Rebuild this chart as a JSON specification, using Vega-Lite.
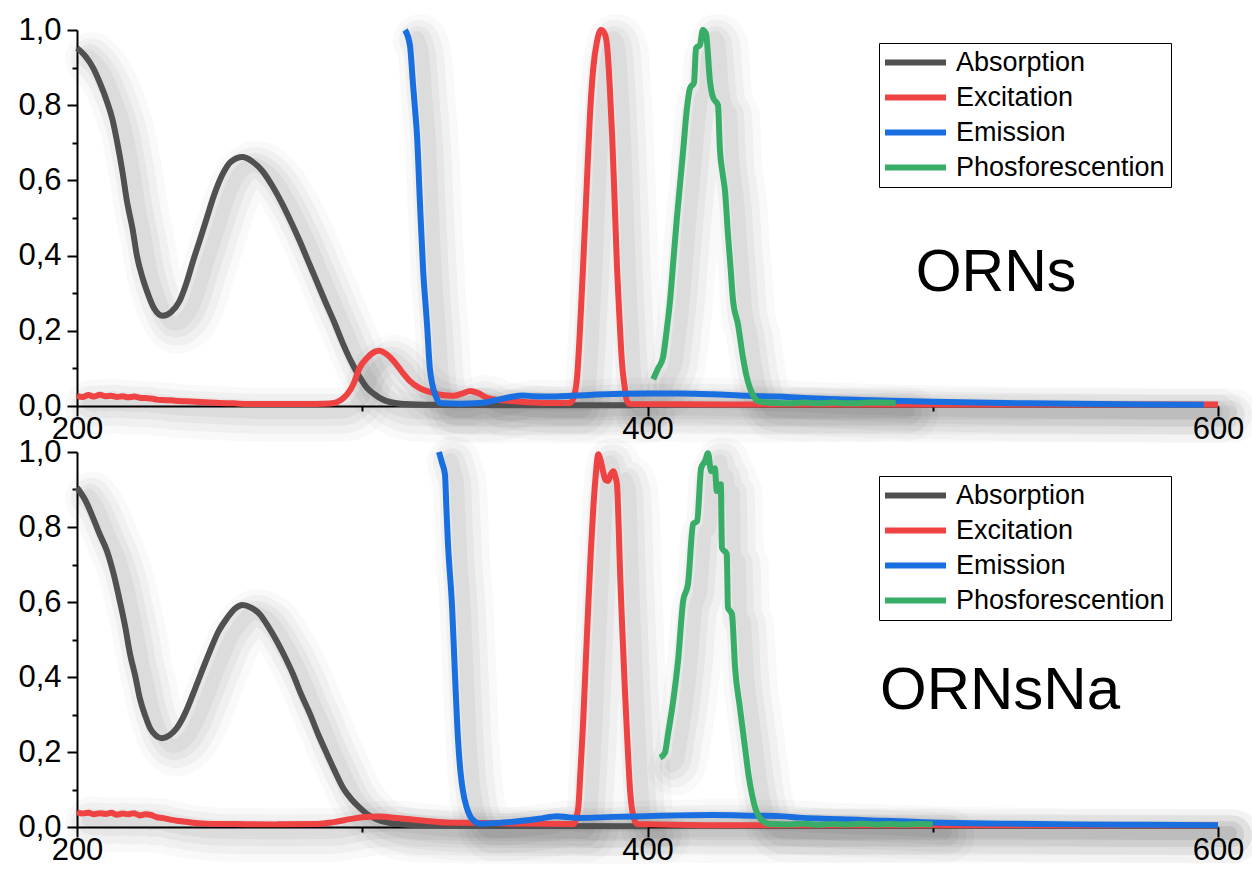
{
  "$schema": "https://vega.github.io/schema/vega-lite/v6.json",
  "background": "white",
  "padding": {"left": 17, "top": 14, "right": 0, "bottom": 0},
  "spacing": 46,
  "bounds": "flush",
  "datasets": {
    "orns": [
      {"s":"Absorption","x":200,"y":0.952},{"s":"Absorption","x":203,"y":0.93},{"s":"Absorption","x":205.6,"y":0.9},{"s":"Absorption","x":208,"y":0.86},{"s":"Absorption","x":210.5,"y":0.81},{"s":"Absorption","x":212.5,"y":0.76},{"s":"Absorption","x":214,"y":0.705},{"s":"Absorption","x":216,"y":0.62},{"s":"Absorption","x":217.5,"y":0.545},{"s":"Absorption","x":219.5,"y":0.47},{"s":"Absorption","x":221,"y":0.4},{"s":"Absorption","x":223,"y":0.34},{"s":"Absorption","x":224.5,"y":0.306},{"s":"Absorption","x":227,"y":0.26},{"s":"Absorption","x":230,"y":0.24},{"s":"Absorption","x":233,"y":0.25},{"s":"Absorption","x":236,"y":0.28},{"s":"Absorption","x":238.5,"y":0.33},{"s":"Absorption","x":240.7,"y":0.386},{"s":"Absorption","x":243,"y":0.44},{"s":"Absorption","x":245.5,"y":0.5},{"s":"Absorption","x":248,"y":0.56},{"s":"Absorption","x":251,"y":0.616},{"s":"Absorption","x":254,"y":0.65},{"s":"Absorption","x":258,"y":0.662},{"s":"Absorption","x":261.5,"y":0.65},{"s":"Absorption","x":265,"y":0.625},{"s":"Absorption","x":268.5,"y":0.585},{"s":"Absorption","x":272,"y":0.537},{"s":"Absorption","x":275,"y":0.49},{"s":"Absorption","x":278,"y":0.44},{"s":"Absorption","x":281,"y":0.386},{"s":"Absorption","x":284,"y":0.332},{"s":"Absorption","x":287,"y":0.278},{"s":"Absorption","x":290,"y":0.226},{"s":"Absorption","x":293,"y":0.17},{"s":"Absorption","x":296,"y":0.12},{"s":"Absorption","x":299,"y":0.078},{"s":"Absorption","x":301.7,"y":0.048},{"s":"Absorption","x":304.5,"y":0.03},{"s":"Absorption","x":307,"y":0.018},{"s":"Absorption","x":310,"y":0.01},{"s":"Absorption","x":315,"y":0.005},{"s":"Absorption","x":325,"y":0.003},{"s":"Absorption","x":350,"y":0.002},{"s":"Absorption","x":395,"y":0.002},
      {"s":"Excitation","x":200,"y":0.027},{"s":"Excitation","x":202,"y":0.024},{"s":"Excitation","x":204,"y":0.029},{"s":"Excitation","x":206,"y":0.025},{"s":"Excitation","x":208,"y":0.03},{"s":"Excitation","x":210,"y":0.026},{"s":"Excitation","x":212,"y":0.027},{"s":"Excitation","x":214,"y":0.024},{"s":"Excitation","x":216,"y":0.026},{"s":"Excitation","x":218,"y":0.023},{"s":"Excitation","x":220,"y":0.025},{"s":"Excitation","x":222,"y":0.022},{"s":"Excitation","x":224,"y":0.021},{"s":"Excitation","x":226,"y":0.02},{"s":"Excitation","x":228,"y":0.017},{"s":"Excitation","x":230,"y":0.016},{"s":"Excitation","x":233,"y":0.015},{"s":"Excitation","x":236,"y":0.013},{"s":"Excitation","x":240,"y":0.012},{"s":"Excitation","x":245,"y":0.01},{"s":"Excitation","x":250,"y":0.008},{"s":"Excitation","x":255,"y":0.007},{"s":"Excitation","x":260,"y":0.005},{"s":"Excitation","x":270,"y":0.005},{"s":"Excitation","x":280,"y":0.005},{"s":"Excitation","x":287,"y":0.006},{"s":"Excitation","x":290,"y":0.008},{"s":"Excitation","x":292.5,"y":0.016},{"s":"Excitation","x":294.6,"y":0.03},{"s":"Excitation","x":297,"y":0.06},{"s":"Excitation","x":299,"y":0.1},{"s":"Excitation","x":302,"y":0.13},{"s":"Excitation","x":304,"y":0.143},{"s":"Excitation","x":306,"y":0.147},{"s":"Excitation","x":308.5,"y":0.138},{"s":"Excitation","x":311,"y":0.12},{"s":"Excitation","x":314,"y":0.09},{"s":"Excitation","x":316.7,"y":0.066},{"s":"Excitation","x":320,"y":0.048},{"s":"Excitation","x":324.8,"y":0.035},{"s":"Excitation","x":328,"y":0.029},{"s":"Excitation","x":331.8,"y":0.027},{"s":"Excitation","x":335,"y":0.033},{"s":"Excitation","x":337.8,"y":0.04},{"s":"Excitation","x":340.5,"y":0.035},{"s":"Excitation","x":343.7,"y":0.022},{"s":"Excitation","x":348,"y":0.016},{"s":"Excitation","x":352.9,"y":0.013},{"s":"Excitation","x":358,"y":0.01},{"s":"Excitation","x":364.7,"y":0.008},{"s":"Excitation","x":372.8,"y":0.008},{"s":"Excitation","x":374,"y":0.02},{"s":"Excitation","x":375.3,"y":0.075},{"s":"Excitation","x":376.3,"y":0.2},{"s":"Excitation","x":377.4,"y":0.37},{"s":"Excitation","x":378.6,"y":0.57},{"s":"Excitation","x":379.8,"y":0.77},{"s":"Excitation","x":381,"y":0.9},{"s":"Excitation","x":382.3,"y":0.97},{"s":"Excitation","x":383.7,"y":1.0},{"s":"Excitation","x":385,"y":0.99},{"s":"Excitation","x":385.8,"y":0.96},{"s":"Excitation","x":386.7,"y":0.86},{"s":"Excitation","x":387.6,"y":0.72},{"s":"Excitation","x":388.5,"y":0.54},{"s":"Excitation","x":389.3,"y":0.37},{"s":"Excitation","x":390.2,"y":0.23},{"s":"Excitation","x":391,"y":0.12},{"s":"Excitation","x":392,"y":0.05},{"s":"Excitation","x":392.8,"y":0.013},{"s":"Excitation","x":394,"y":0.005},{"s":"Excitation","x":450,"y":0.004},{"s":"Excitation","x":500,"y":0.004},{"s":"Excitation","x":600,"y":0.004},
      {"s":"Emission","x":315,"y":1.0},{"s":"Emission","x":316.7,"y":0.96},{"s":"Emission","x":317.8,"y":0.855},{"s":"Emission","x":318.5,"y":0.79},{"s":"Emission","x":319.2,"y":0.72},{"s":"Emission","x":320.2,"y":0.545},{"s":"Emission","x":321.3,"y":0.367},{"s":"Emission","x":322.7,"y":0.218},{"s":"Emission","x":323.7,"y":0.1},{"s":"Emission","x":324.5,"y":0.06},{"s":"Emission","x":325.5,"y":0.032},{"s":"Emission","x":327.3,"y":0.008},{"s":"Emission","x":334,"y":0.006},{"s":"Emission","x":341.3,"y":0.008},{"s":"Emission","x":345,"y":0.012},{"s":"Emission","x":348.3,"y":0.018},{"s":"Emission","x":352,"y":0.024},{"s":"Emission","x":356.3,"y":0.028},{"s":"Emission","x":360,"y":0.026},{"s":"Emission","x":364.7,"y":0.025},{"s":"Emission","x":375,"y":0.028},{"s":"Emission","x":388,"y":0.032},{"s":"Emission","x":400,"y":0.033},{"s":"Emission","x":411.4,"y":0.033},{"s":"Emission","x":423,"y":0.031},{"s":"Emission","x":434.9,"y":0.027},{"s":"Emission","x":446,"y":0.025},{"s":"Emission","x":453.5,"y":0.022},{"s":"Emission","x":475,"y":0.016},{"s":"Emission","x":500,"y":0.011},{"s":"Emission","x":525,"y":0.008},{"s":"Emission","x":550,"y":0.006},{"s":"Emission","x":575,"y":0.004},{"s":"Emission","x":595,"y":0.003},
      {"s":"Phosforescention","x":402,"y":0.071},{"s":"Phosforescention","x":403.7,"y":0.1},{"s":"Phosforescention","x":405.4,"y":0.128},{"s":"Phosforescention","x":406.7,"y":0.2},{"s":"Phosforescention","x":407.9,"y":0.28},{"s":"Phosforescention","x":409.1,"y":0.39},{"s":"Phosforescention","x":410.3,"y":0.5},{"s":"Phosforescention","x":411.4,"y":0.59},{"s":"Phosforescention","x":412.5,"y":0.68},{"s":"Phosforescention","x":413.8,"y":0.79},{"s":"Phosforescention","x":414.9,"y":0.845},{"s":"Phosforescention","x":416.3,"y":0.86},{"s":"Phosforescention","x":417,"y":0.952},{"s":"Phosforescention","x":418.4,"y":0.96},{"s":"Phosforescention","x":419.4,"y":1.0},{"s":"Phosforescention","x":420.5,"y":0.99},{"s":"Phosforescention","x":421.9,"y":0.864},{"s":"Phosforescention","x":423,"y":0.82},{"s":"Phosforescention","x":424.7,"y":0.8},{"s":"Phosforescention","x":425.4,"y":0.68},{"s":"Phosforescention","x":426.3,"y":0.62},{"s":"Phosforescention","x":427.2,"y":0.57},{"s":"Phosforescention","x":428.2,"y":0.457},{"s":"Phosforescention","x":429.1,"y":0.37},{"s":"Phosforescention","x":430,"y":0.28},{"s":"Phosforescention","x":431.7,"y":0.218},{"s":"Phosforescention","x":433.5,"y":0.128},{"s":"Phosforescention","x":434.7,"y":0.08},{"s":"Phosforescention","x":435.9,"y":0.048},{"s":"Phosforescention","x":437.3,"y":0.025},{"s":"Phosforescention","x":438.7,"y":0.013},{"s":"Phosforescention","x":442,"y":0.009},{"s":"Phosforescention","x":446.4,"y":0.008},{"s":"Phosforescention","x":450,"y":0.007},{"s":"Phosforescention","x":455,"y":0.009},{"s":"Phosforescention","x":460,"y":0.007},{"s":"Phosforescention","x":465,"y":0.009},{"s":"Phosforescention","x":470,"y":0.007},{"s":"Phosforescention","x":475,"y":0.008},{"s":"Phosforescention","x":480,"y":0.009},{"s":"Phosforescention","x":487,"y":0.008}
    ],
    "ornsna": [
      {"s":"Absorption","x":200,"y":0.905},{"s":"Absorption","x":203,"y":0.87},{"s":"Absorption","x":205.6,"y":0.825},{"s":"Absorption","x":208,"y":0.78},{"s":"Absorption","x":210.5,"y":0.736},{"s":"Absorption","x":213,"y":0.67},{"s":"Absorption","x":215,"y":0.603},{"s":"Absorption","x":217,"y":0.53},{"s":"Absorption","x":218.6,"y":0.461},{"s":"Absorption","x":220.5,"y":0.4},{"s":"Absorption","x":222,"y":0.344},{"s":"Absorption","x":224,"y":0.295},{"s":"Absorption","x":225.6,"y":0.264},{"s":"Absorption","x":227.5,"y":0.245},{"s":"Absorption","x":229.8,"y":0.237},{"s":"Absorption","x":232.5,"y":0.245},{"s":"Absorption","x":235,"y":0.264},{"s":"Absorption","x":238,"y":0.305},{"s":"Absorption","x":240.7,"y":0.355},{"s":"Absorption","x":243.5,"y":0.41},{"s":"Absorption","x":246.6,"y":0.469},{"s":"Absorption","x":249.5,"y":0.52},{"s":"Absorption","x":252.6,"y":0.557},{"s":"Absorption","x":255.5,"y":0.583},{"s":"Absorption","x":258,"y":0.592},{"s":"Absorption","x":261,"y":0.585},{"s":"Absorption","x":264,"y":0.568},{"s":"Absorption","x":267,"y":0.535},{"s":"Absorption","x":270,"y":0.496},{"s":"Absorption","x":273,"y":0.452},{"s":"Absorption","x":275.7,"y":0.408},{"s":"Absorption","x":278.5,"y":0.355},{"s":"Absorption","x":281.7,"y":0.301},{"s":"Absorption","x":284.5,"y":0.248},{"s":"Absorption","x":287.6,"y":0.195},{"s":"Absorption","x":290.5,"y":0.147},{"s":"Absorption","x":293.3,"y":0.104},{"s":"Absorption","x":296.2,"y":0.074},{"s":"Absorption","x":299.2,"y":0.051},{"s":"Absorption","x":302,"y":0.033},{"s":"Absorption","x":305,"y":0.021},{"s":"Absorption","x":309,"y":0.012},{"s":"Absorption","x":313,"y":0.008},{"s":"Absorption","x":320,"y":0.005},{"s":"Absorption","x":340,"y":0.003},{"s":"Absorption","x":400,"y":0.002},
      {"s":"Excitation","x":200,"y":0.039},{"s":"Excitation","x":202,"y":0.036},{"s":"Excitation","x":204,"y":0.038},{"s":"Excitation","x":206,"y":0.034},{"s":"Excitation","x":208,"y":0.037},{"s":"Excitation","x":210,"y":0.035},{"s":"Excitation","x":212,"y":0.038},{"s":"Excitation","x":214,"y":0.033},{"s":"Excitation","x":216,"y":0.036},{"s":"Excitation","x":218,"y":0.034},{"s":"Excitation","x":220,"y":0.037},{"s":"Excitation","x":222,"y":0.031},{"s":"Excitation","x":224,"y":0.034},{"s":"Excitation","x":226,"y":0.032},{"s":"Excitation","x":228,"y":0.026},{"s":"Excitation","x":230,"y":0.024},{"s":"Excitation","x":233,"y":0.019},{"s":"Excitation","x":236,"y":0.016},{"s":"Excitation","x":240,"y":0.012},{"s":"Excitation","x":245,"y":0.009},{"s":"Excitation","x":255,"y":0.008},{"s":"Excitation","x":270,"y":0.007},{"s":"Excitation","x":284.5,"y":0.008},{"s":"Excitation","x":290,"y":0.013},{"s":"Excitation","x":295.7,"y":0.021},{"s":"Excitation","x":300,"y":0.026},{"s":"Excitation","x":306,"y":0.028},{"s":"Excitation","x":312,"y":0.024},{"s":"Excitation","x":320,"y":0.018},{"s":"Excitation","x":329.7,"y":0.012},{"s":"Excitation","x":341,"y":0.011},{"s":"Excitation","x":355,"y":0.009},{"s":"Excitation","x":374,"y":0.008},{"s":"Excitation","x":375.7,"y":0.05},{"s":"Excitation","x":376.5,"y":0.15},{"s":"Excitation","x":377.4,"y":0.274},{"s":"Excitation","x":378.3,"y":0.43},{"s":"Excitation","x":379.2,"y":0.585},{"s":"Excitation","x":380.1,"y":0.73},{"s":"Excitation","x":381,"y":0.851},{"s":"Excitation","x":382,"y":0.95},{"s":"Excitation","x":382.7,"y":0.994},{"s":"Excitation","x":383.5,"y":0.98},{"s":"Excitation","x":384.4,"y":0.949},{"s":"Excitation","x":385.3,"y":0.925},{"s":"Excitation","x":386.2,"y":0.923},{"s":"Excitation","x":387.1,"y":0.94},{"s":"Excitation","x":388,"y":0.949},{"s":"Excitation","x":388.7,"y":0.935},{"s":"Excitation","x":389.3,"y":0.914},{"s":"Excitation","x":389.9,"y":0.8},{"s":"Excitation","x":390.4,"y":0.674},{"s":"Excitation","x":391.2,"y":0.52},{"s":"Excitation","x":392.1,"y":0.362},{"s":"Excitation","x":393,"y":0.22},{"s":"Excitation","x":393.9,"y":0.096},{"s":"Excitation","x":395,"y":0.03},{"s":"Excitation","x":396.3,"y":0.008},{"s":"Excitation","x":420,"y":0.005},{"s":"Excitation","x":500,"y":0.005},{"s":"Excitation","x":600,"y":0.005},
      {"s":"Emission","x":326.9,"y":1.0},{"s":"Emission","x":328,"y":0.97},{"s":"Emission","x":329,"y":0.94},{"s":"Emission","x":329.5,"y":0.85},{"s":"Emission","x":330,"y":0.763},{"s":"Emission","x":331.5,"y":0.585},{"s":"Emission","x":332.5,"y":0.407},{"s":"Emission","x":333.6,"y":0.23},{"s":"Emission","x":334.4,"y":0.15},{"s":"Emission","x":335.3,"y":0.096},{"s":"Emission","x":336.5,"y":0.055},{"s":"Emission","x":337.8,"y":0.029},{"s":"Emission","x":339.5,"y":0.014},{"s":"Emission","x":341.3,"y":0.009},{"s":"Emission","x":348,"y":0.011},{"s":"Emission","x":355.3,"y":0.016},{"s":"Emission","x":362,"y":0.022},{"s":"Emission","x":368.3,"y":0.029},{"s":"Emission","x":372,"y":0.026},{"s":"Emission","x":376.3,"y":0.024},{"s":"Emission","x":388,"y":0.027},{"s":"Emission","x":399.8,"y":0.029},{"s":"Emission","x":411,"y":0.031},{"s":"Emission","x":423,"y":0.032},{"s":"Emission","x":438,"y":0.03},{"s":"Emission","x":446,"y":0.029},{"s":"Emission","x":453.5,"y":0.025},{"s":"Emission","x":475,"y":0.019},{"s":"Emission","x":500,"y":0.012},{"s":"Emission","x":525,"y":0.009},{"s":"Emission","x":550,"y":0.007},{"s":"Emission","x":575,"y":0.006},{"s":"Emission","x":600,"y":0.005},
      {"s":"Phosforescention","x":404.4,"y":0.185},{"s":"Phosforescention","x":406.1,"y":0.198},{"s":"Phosforescention","x":407.2,"y":0.248},{"s":"Phosforescention","x":409,"y":0.336},{"s":"Phosforescention","x":410.7,"y":0.443},{"s":"Phosforescention","x":412.5,"y":0.603},{"s":"Phosforescention","x":414.2,"y":0.648},{"s":"Phosforescention","x":416,"y":0.808},{"s":"Phosforescention","x":417.4,"y":0.816},{"s":"Phosforescention","x":418.8,"y":0.957},{"s":"Phosforescention","x":420.2,"y":0.976},{"s":"Phosforescention","x":421.2,"y":0.997},{"s":"Phosforescention","x":422.3,"y":0.949},{"s":"Phosforescention","x":423.6,"y":0.957},{"s":"Phosforescention","x":424.3,"y":0.896},{"s":"Phosforescention","x":425.7,"y":0.914},{"s":"Phosforescention","x":426.1,"y":0.744},{"s":"Phosforescention","x":427.8,"y":0.728},{"s":"Phosforescention","x":428.2,"y":0.585},{"s":"Phosforescention","x":429.6,"y":0.568},{"s":"Phosforescention","x":430.7,"y":0.425},{"s":"Phosforescention","x":432.4,"y":0.318},{"s":"Phosforescention","x":434.2,"y":0.211},{"s":"Phosforescention","x":435.4,"y":0.14},{"s":"Phosforescention","x":436.6,"y":0.088},{"s":"Phosforescention","x":438,"y":0.045},{"s":"Phosforescention","x":439.4,"y":0.024},{"s":"Phosforescention","x":441,"y":0.013},{"s":"Phosforescention","x":443,"y":0.008},{"s":"Phosforescention","x":450,"y":0.007},{"s":"Phosforescention","x":455,"y":0.009},{"s":"Phosforescention","x":460,"y":0.006},{"s":"Phosforescention","x":465,"y":0.008},{"s":"Phosforescention","x":470,"y":0.007},{"s":"Phosforescention","x":475,"y":0.009},{"s":"Phosforescention","x":480,"y":0.007},{"s":"Phosforescention","x":485,"y":0.008},{"s":"Phosforescention","x":490,"y":0.007},{"s":"Phosforescention","x":495,"y":0.008},{"s":"Phosforescention","x":500,"y":0.007}
    ]
  },
  "resolve": {"legend": {"color": "independent"}},
  "vconcat": [
    {
      "width": 1141, "height": 376,
      "data": {"name": "orns"},
      "encoding": {
        "x": {"field": "x", "type": "quantitative", "scale": {"domain": [200, 600], "nice": false, "zero": false},
          "axis": {"values": [200, 300, 400, 500, 600], "labelExpr": "datum.value % 200 === 0 ? datum.label : ''", "tickSize": {"condition": {"test": "datum.value % 200 === 0", "value": 10}, "value": 5}}},
        "y": {"field": "y", "type": "quantitative", "scale": {"domain": [0, 1], "nice": false},
          "axis": {"values": [0, 0.1, 0.2, 0.3, 0.4, 0.5, 0.6, 0.7, 0.8, 0.9, 1], "labelExpr": "round(datum.value*10) % 2 === 0 ? replace(format(datum.value, '.1f'), '.', ',') : ''", "tickSize": {"condition": {"test": "round(datum.value*10) % 2 === 0", "value": 10}, "value": 5}}}
      },
      "layer": [
        {"mark": {"type": "line", "strokeWidth": 54, "opacity": 0.025, "color": "black", "xOffset": 15, "yOffset": 11, "interpolate": "monotone", "strokeJoin": "round", "strokeCap": "round"}, "encoding": {"detail": {"field": "s"}}},
        {"mark": {"type": "line", "strokeWidth": 40, "opacity": 0.035, "color": "black", "xOffset": 14, "yOffset": 10, "interpolate": "monotone", "strokeJoin": "round", "strokeCap": "round"}, "encoding": {"detail": {"field": "s"}}},
        {"mark": {"type": "line", "strokeWidth": 26, "opacity": 0.04, "color": "black", "xOffset": 13, "yOffset": 9, "interpolate": "monotone", "strokeJoin": "round", "strokeCap": "round"}, "encoding": {"detail": {"field": "s"}}},
        {"mark": {"type": "line", "strokeWidth": 14, "opacity": 0.045, "color": "black", "xOffset": 12, "yOffset": 8, "interpolate": "monotone", "strokeJoin": "round", "strokeCap": "round"}, "encoding": {"detail": {"field": "s"}}},
        {
          "mark": {"type": "line", "strokeWidth": 6, "strokeJoin": "round", "interpolate": "monotone"},
          "encoding": {
            "color": {"field": "s", "type": "nominal",
              "scale": {"domain": ["Absorption", "Excitation", "Emission", "Phosforescention"], "range": ["#505050", "#ef4242", "#1a6fe0", "#38ad68"]},
              "legend": {"legendX": 802, "legendY": 13}}
          }
        },
        {
          "data": {"values": [{"t": "ORNs", "x": 494, "y": 0.306}]},
          "mark": {"type": "text", "fontSize": 59, "font": "Liberation Sans", "align": "left", "baseline": "alphabetic", "color": "black"},
          "encoding": {"text": {"field": "t"}}
        }
      ]
    },
    {
      "width": 1141, "height": 375,
      "data": {"name": "ornsna"},
      "encoding": {
        "x": {"field": "x", "type": "quantitative", "scale": {"domain": [200, 600], "nice": false, "zero": false},
          "axis": {"values": [200, 300, 400, 500, 600], "labelExpr": "datum.value % 200 === 0 ? datum.label : ''", "tickSize": {"condition": {"test": "datum.value % 200 === 0", "value": 10}, "value": 5}}},
        "y": {"field": "y", "type": "quantitative", "scale": {"domain": [0, 1], "nice": false},
          "axis": {"values": [0, 0.1, 0.2, 0.3, 0.4, 0.5, 0.6, 0.7, 0.8, 0.9, 1], "labelExpr": "round(datum.value*10) % 2 === 0 ? replace(format(datum.value, '.1f'), '.', ',') : ''", "tickSize": {"condition": {"test": "round(datum.value*10) % 2 === 0", "value": 10}, "value": 5}}}
      },
      "layer": [
        {"mark": {"type": "line", "strokeWidth": 54, "opacity": 0.025, "color": "black", "xOffset": 15, "yOffset": 11, "interpolate": "monotone", "strokeJoin": "round", "strokeCap": "round"}, "encoding": {"detail": {"field": "s"}}},
        {"mark": {"type": "line", "strokeWidth": 40, "opacity": 0.035, "color": "black", "xOffset": 14, "yOffset": 10, "interpolate": "monotone", "strokeJoin": "round", "strokeCap": "round"}, "encoding": {"detail": {"field": "s"}}},
        {"mark": {"type": "line", "strokeWidth": 26, "opacity": 0.04, "color": "black", "xOffset": 13, "yOffset": 9, "interpolate": "monotone", "strokeJoin": "round", "strokeCap": "round"}, "encoding": {"detail": {"field": "s"}}},
        {"mark": {"type": "line", "strokeWidth": 14, "opacity": 0.045, "color": "black", "xOffset": 12, "yOffset": 8, "interpolate": "monotone", "strokeJoin": "round", "strokeCap": "round"}, "encoding": {"detail": {"field": "s"}}},
        {
          "mark": {"type": "line", "strokeWidth": 6, "strokeJoin": "round", "interpolate": "monotone"},
          "encoding": {
            "color": {"field": "s", "type": "nominal",
              "scale": {"domain": ["Absorption", "Excitation", "Emission", "Phosforescention"], "range": ["#505050", "#ef4242", "#1a6fe0", "#38ad68"]},
              "legend": {"legendX": 802, "legendY": 24}}
          }
        },
        {
          "data": {"values": [{"t": "ORNsNa", "x": 481.5, "y": 0.315}]},
          "mark": {"type": "text", "fontSize": 60, "font": "Liberation Sans", "align": "left", "baseline": "alphabetic", "color": "black"},
          "encoding": {"text": {"field": "t"}}
        }
      ]
    }
  ],
  "config": {
    "font": "Liberation Sans",
    "view": {"stroke": null},
    "axis": {"title": null, "grid": false, "domainColor": "black", "domainWidth": 2, "tickColor": "black", "tickWidth": 2, "labelColor": "black", "labelFont": "Liberation Sans", "labelFontSize": 31, "labelOverlap": false, "labelFlush": false},
    "axisX": {"labelPadding": -2},
    "axisY": {"labelPadding": 6},
    "legend": {"orient": "none", "title": null, "strokeColor": "black", "fillColor": "white", "padding": 6, "rowPadding": 7, "clipHeight": 27, "labelOffset": 7, "symbolOffset": -6, "symbolType": "stroke", "symbolSize": 4096, "symbolStrokeWidth": 6, "labelFont": "Liberation Sans", "labelFontSize": 27, "labelColor": "black", "labelLimit": 400, "cornerRadius": 0}
  }
}
